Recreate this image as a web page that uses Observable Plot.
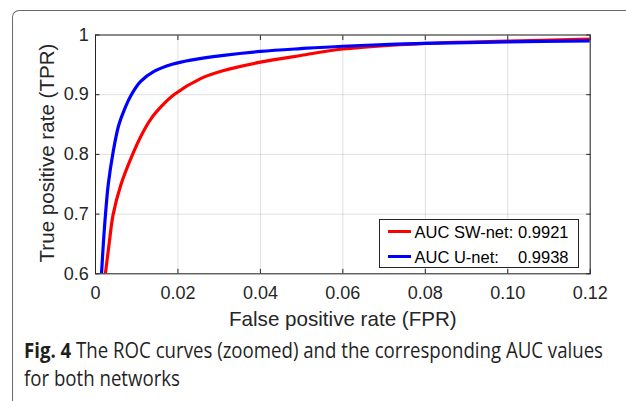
<!DOCTYPE html>
<html>
<head>
<meta charset="utf-8">
<script src="https://cdn.jsdelivr.net/npm/d3@7"></script>
<script src="https://cdn.jsdelivr.net/npm/@observablehq/plot@0.6"></script>
<style>
html, body { margin: 0; padding: 0; background: #fff; }
#wrap { position: relative; width: 626px; height: 401px; overflow: hidden; background: #fff; }
#chart { position: absolute; left: 0; top: 0; }
#border { position: absolute; left: 12px; top: 10px; width: 760px; height: 520px; border-left: 1.4px solid #6a6a6a; border-top: 1.4px solid #6a6a6a; border-top-left-radius: 7px; pointer-events: none; z-index: 3; }
#legend { position: absolute; left: 378.5px; top: 218.5px; width: 198px; height: 47.5px; border: 1px solid #262626; background: #fff; font-family: "Liberation Sans", Arial, sans-serif; font-size: 16.5px; color: #000; z-index: 2; }
#legend .sw { position: absolute; left: 8.5px; width: 23px; height: 3px; }
#legend .lab { position: absolute; left: 35px; line-height: 20px; white-space: pre; }
#legend .val { position: absolute; right: 9px; line-height: 20px; }
#cap { position: absolute; left: 24px; top: 336px; font-family: "Open Sans", "Noto Sans", sans-serif; font-size: 21px; line-height: 28px; color: #1f1f1f; white-space: nowrap; z-index: 2; }
#cap .l { transform-origin: 0 0; }
#cap b { font-weight: 700; }
</style>
</head>
<body>
<div id="wrap">
  <div id="chart"></div>
  <div id="legend"></div>
  <div id="cap"></div>
  <div id="border"></div>
</div>
<script>
// ---- data ----
const swFPR = [0.0024, 0.0033, 0.0043, 0.0062, 0.0090, 0.0112, 0.0135, 0.0162, 0.019, 0.0255, 0.0311, 0.04, 0.0498, 0.06, 0.08, 0.10, 0.12];
const swTPR = [0.600, 0.650, 0.700, 0.750, 0.800, 0.833, 0.860, 0.882, 0.900, 0.927, 0.9405, 0.9545, 0.9657, 0.9765, 0.986, 0.9896, 0.993];
const unFPR = [0.00146, 0.0019, 0.00243, 0.0031, 0.0043, 0.0056, 0.0070, 0.0087, 0.0109, 0.0142, 0.0186, 0.0231, 0.0311, 0.04, 0.0498, 0.06, 0.08, 0.10, 0.12];
const unTPR = [0.600, 0.650, 0.700, 0.750, 0.805, 0.848, 0.875, 0.900, 0.922, 0.939, 0.951, 0.958, 0.966, 0.9725, 0.9772, 0.9812, 0.986, 0.9886, 0.990];

const seriesNames = ["AUC SW-net:", "AUC U-net:"];
const seriesAUC = ["0.9921", "0.9938"];
const seriesColors = ["#ff0000", "#0000ff"];

const xTicks = [0, 0.02, 0.04, 0.06, 0.08, 0.10, 0.12];
const xTickLabels = ["0", "0.02", "0.04", "0.06", "0.08", "0.10", "0.12"];
const yTicks = [0.6, 0.7, 0.8, 0.9, 1];
const yTickLabels = ["0.6", "0.7", "0.8", "0.9", "1"];

const xLabel = "False positive rate (FPR)";
const yLabel = "True positive rate (TPR)";
const captionBold = "Fig. 4";
const captionLine1 = " The ROC curves (zoomed) and the corresponding AUC values";
const captionLine2 = "for both networks";

// ---- build tables ----
const swData = swFPR.map((f, i) => ({fpr: f, tpr: swTPR[i]}));
const unData = unFPR.map((f, i) => ({fpr: f, tpr: unTPR[i]}));

const ink = "#262626";
const font = "Liberation Sans, Arial, sans-serif";

const plot = Plot.plot({
  width: 626,
  height: 335,
  marginLeft: 95,
  marginRight: 36.3,
  marginTop: 34.5,
  marginBottom: 61.7,
  style: {fontFamily: font, background: "none", color: ink, overflow: "visible"},
  x: {domain: [0, 0.12], label: null},
  y: {domain: [0.6, 1], label: null},
  marks: [
    Plot.gridX(xTicks, {stroke: ink, strokeOpacity: 0.14, strokeWidth: 1}),
    Plot.gridY(yTicks, {stroke: ink, strokeOpacity: 0.14, strokeWidth: 1}),
    Plot.line(swData, {x: "fpr", y: "tpr", stroke: seriesColors[0], strokeWidth: 3.2, curve: "catmull-rom", clip: true}),
    Plot.line(unData, {x: "fpr", y: "tpr", stroke: seriesColors[1], strokeWidth: 3.2, curve: "catmull-rom", clip: true}),
    Plot.frame({stroke: ink, strokeWidth: 1}),
    // inward tick marks on all four sides
    Plot.axisX(xTicks, {anchor: "bottom", tickSize: 4.5, dy: -4.5, text: null, label: null, stroke: ink}),
    Plot.axisX(xTicks, {anchor: "top", tickSize: 4.5, dy: 4.5, text: null, label: null, stroke: ink}),
    Plot.axisY(yTicks, {anchor: "left", tickSize: 4.5, dx: 4.5, text: null, label: null, stroke: ink}),
    Plot.axisY(yTicks, {anchor: "right", tickSize: 4.5, dx: -4.5, text: null, label: null, stroke: ink}),
    // tick labels
    Plot.axisX(xTicks, {anchor: "bottom", tickSize: 0, tickPadding: 12.5, tickFormat: d => xTickLabels[xTicks.indexOf(d)], fontSize: 18, fill: ink, label: null}),
    Plot.axisY(yTicks, {anchor: "left", tickSize: 0, tickPadding: 6.7, tickFormat: d => yTickLabels[yTicks.indexOf(d)], fontSize: 18, fill: ink, label: null}),
    // axis titles
    Plot.text([xLabel], {text: d => d, frameAnchor: "bottom", textAnchor: "middle", lineAnchor: "top", dy: 38, fontSize: 20.6, fill: ink, fontFamily: font}),
    Plot.text([yLabel], {text: d => d, frameAnchor: "left", textAnchor: "middle", rotate: -90, lineAnchor: "top", dx: -56, dy: -1.4, fontSize: 20.6, fill: ink, fontFamily: font})
  ]
});
document.getElementById("chart").appendChild(plot);

// ---- legend ----
const legend = document.getElementById("legend");
const rowCenters = [12, 37];
seriesNames.forEach((name, i) => {
  const sw = document.createElement("div");
  sw.className = "sw";
  sw.style.top = (rowCenters[i] - 1.5) + "px";
  sw.style.background = seriesColors[i];
  legend.appendChild(sw);
  const lab = document.createElement("div");
  lab.className = "lab";
  lab.style.top = (rowCenters[i] - 10) + "px";
  lab.textContent = name;
  legend.appendChild(lab);
  const val = document.createElement("div");
  val.className = "val";
  val.style.top = (rowCenters[i] - 10) + "px";
  val.textContent = seriesAUC[i];
  legend.appendChild(val);
});

// ---- caption ----
const cap = document.getElementById("cap");
const l1 = document.createElement("div");
l1.className = "l";
const sp1 = document.createElement("span");
const b = document.createElement("b");
b.textContent = captionBold;
sp1.appendChild(b);
sp1.appendChild(document.createTextNode(captionLine1));
l1.appendChild(sp1);
const l2 = document.createElement("div");
l2.className = "l";
const sp2 = document.createElement("span");
sp2.textContent = captionLine2;
l2.appendChild(sp2);
cap.appendChild(l1);
cap.appendChild(l2);
const targetWidth = 579;
const w = sp1.getBoundingClientRect().width;
const s = targetWidth / w;
l1.style.transform = `scaleX(${s})`;
l2.style.transform = `scaleX(${s})`;
</script>
</body>
</html>
